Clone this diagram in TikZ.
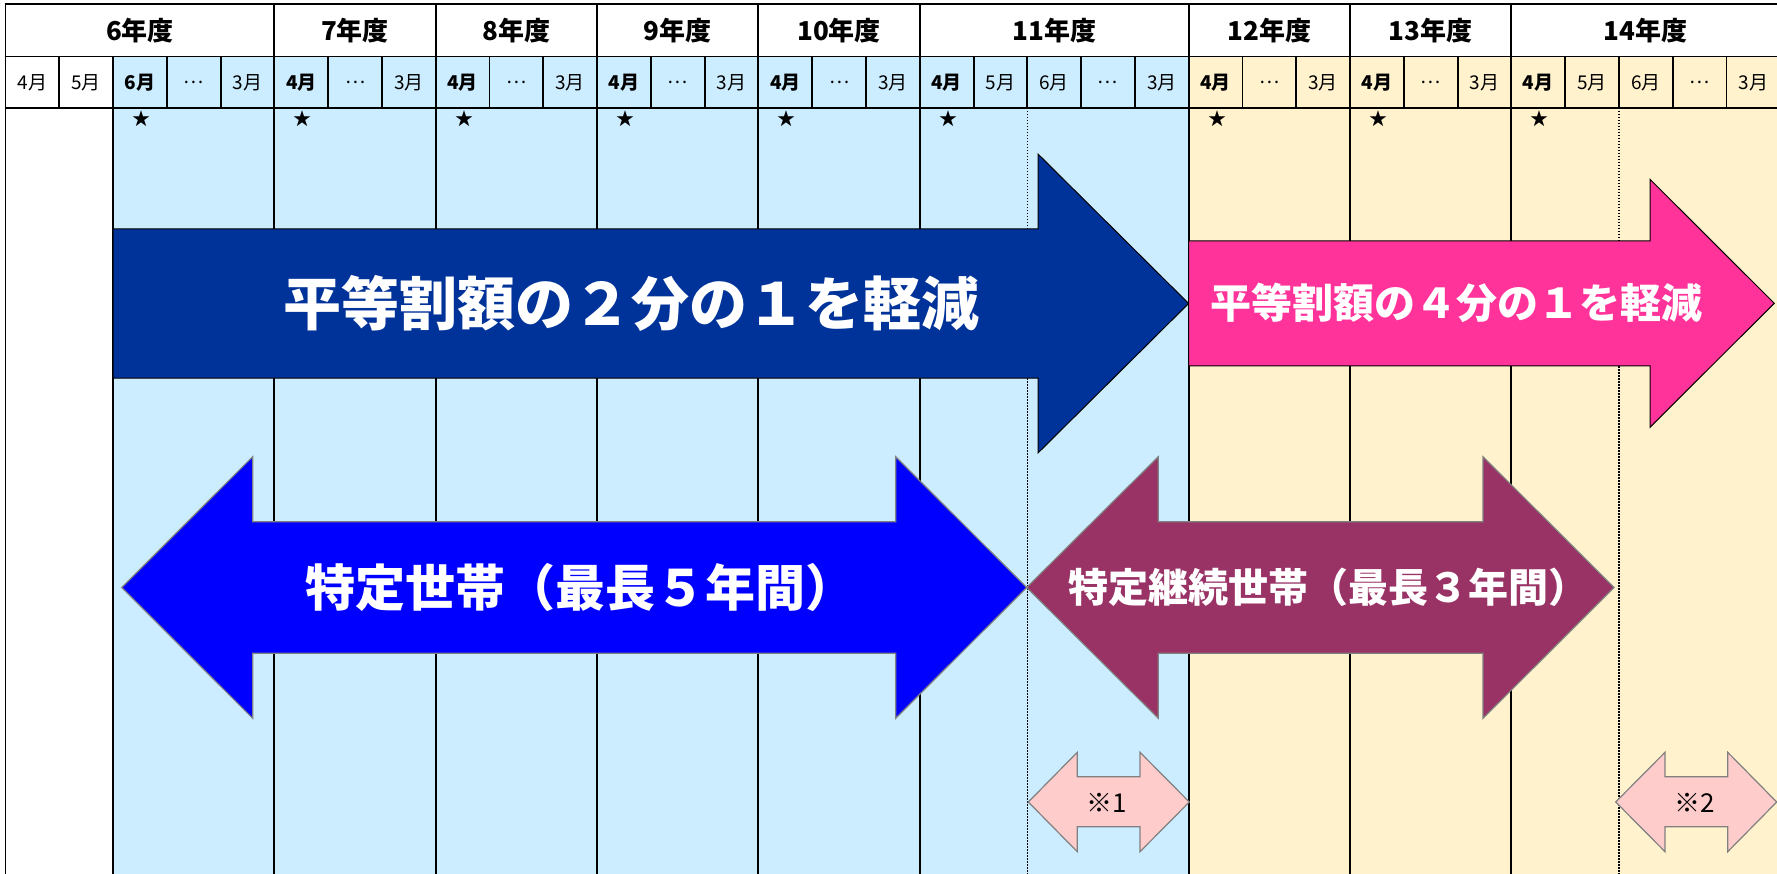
\documentclass[tikz,border=0pt]{standalone}
\usepackage{fontspec}
\setmainfont{Noto Sans CJK JP}
\definecolor{bgblue}{HTML}{CCECFF}
\definecolor{bgyellow}{HTML}{FFF2CC}
\definecolor{halfblue}{HTML}{003399}
\definecolor{quarterpink}{HTML}{FF3399}
\definecolor{fiveblue}{HTML}{0000FF}
\definecolor{threemaroon}{HTML}{993366}
\definecolor{notepink}{HTML}{FFCCCC}
\begin{document}
\begin{tikzpicture}[x=1pt,y=-1pt]
    \tikzset{grid/.style={line width=1.9pt},
        sixmonth/.style={line width=1.4pt,dash pattern=on 1.5pt off 1.5pt},
        yearlabel/.style={font=\fontsize{26}{26}\selectfont\bfseries},
        monthlabel/.style={font=\fontsize{19}{19}\selectfont},
        starmark/.style={font=\fontsize{18}{18}\selectfont},
        onearrow/.style={draw=black,line width=1pt},
        twoarrow/.style={draw=gray,line width=1.2pt},
        bigtext/.style={text=white,font=\fontsize{#1}{#1}\selectfont\bfseries}};
    \useasboundingbox (0,0) rectangle (1777,874);
    \clip (0,0) rectangle (1777,874);
    \fill[white] (0,0) rectangle (1777,874);
    \fill[bgblue] ({5.5+53.78*2},56.5) rectangle ({5.5+53.78*22},880);
    \fill[bgyellow] ({5.5+53.78*22},56.5) rectangle (1790,880);
    \foreach \i in {19,30}
        \draw[sixmonth] ({5.5+53.78*\i},108) -- ({5.5+53.78*\i},880);
    \foreach \i in {0,2,5,8,11,14,17,22,25,28}
        \draw[grid] ({5.5+53.78*\i},108) -- ({5.5+53.78*\i},880);
    \foreach \i in {0,...,33}
        \draw[grid] ({5.5+53.78*\i},56.5) -- ({5.5+53.78*\i},108);
    \foreach \i in {0,5,8,11,14,17,22,25,28,33}
        \draw[grid] ({5.5+53.78*\i},4) -- ({5.5+53.78*\i},56.5);
    \foreach \y in {4,56.5,108}
        \draw[grid] (4.6,\y) -- (1790,\y);
    \foreach \a/\b/\n in {0/5/6,5/8/7,8/11/8,11/14/9,14/17/10,17/22/11,22/25/12,25/28/13,28/33/14}
        \node[yearlabel] (year\n) at ({5.5+53.78*(\a+\b)/2},30.5) {{\n}年度};
    \foreach \i/\m in {0/4月,1/5月,2/\textbf{6月},3/…,4/3月,5/\textbf{4月},6/…,7/3月,8/\textbf{4月},9/…,10/3月,
        11/\textbf{4月},12/…,13/3月,14/\textbf{4月},15/…,16/3月,17/\textbf{4月},18/5月,19/6月,20/…,21/3月,
        22/\textbf{4月},23/…,24/3月,25/\textbf{4月},26/…,27/3月,28/\textbf{4月},29/5月,30/6月,31/…,32/3月}
        \node[monthlabel] (month\i) at ({5.5+53.78*(\i+0.5)},82.5) {\m};
    \foreach \i in {2,5,8,11,14,17,22,25,28}
        \node[starmark] (star\i) at ({5.5+53.78*\i+28.5},119) {★};
    % 2 bun no 1
    \filldraw[onearrow,fill=halfblue] (113.06,229) -- (1038,229) -- (1038,154) -- (1188.66,303.5)
        -- (1038,453) -- (1038,378) -- (113.06,378) -- cycle;
    \node[bigtext=58] (half) at (631,303.5) {平等割額の２分の１を軽減};
    % 4 bun no 1
    \filldraw[onearrow,fill=quarterpink] (1188.66,241) -- (1650,241) -- (1650,179.3) -- (1774.3,303.3)
        -- (1650,427.3) -- (1650,366) -- (1188.66,366) -- cycle;
    \node[bigtext=41] (quarter) at (1456,303.3) {平等割額の４分の１を軽減};
    % setai
    \filldraw[twoarrow,fill=fiveblue] (121.7,587.5) -- (252.7,456.7) -- (252.7,521.7) -- (895.7,521.7)
        -- (895.7,456.7) -- (1026.7,587.5) -- (895.7,718.3) -- (895.7,653.3) -- (252.7,653.3)
        -- (252.7,718.3) -- cycle;
    \node[bigtext=50] (fiveyear) at (580,587.5) {特定世帯（最長５年間）};
    \filldraw[twoarrow,fill=threemaroon] (1026.7,587.5) -- (1158.3,456.7) -- (1158.3,521.7) -- (1483,521.7)
        -- (1483,456.7) -- (1614,587.5) -- (1483,718.3) -- (1483,653.3) -- (1158.3,653.3)
        -- (1158.3,718.3) -- cycle;
    \node[bigtext=40] (threeyear) at (1328,587.5) {特定継続世帯（最長３年間）};
    % kome
    \filldraw[twoarrow,fill=notepink] (1028.3,802) -- (1077.3,752.3) -- (1077.3,776.7) -- (1140,776.7)
        -- (1140,752.3) -- (1189.3,802) -- (1140,851.7) -- (1140,826.7) -- (1077.3,826.7)
        -- (1077.3,851.7) -- cycle;
    \node[font=\fontsize{26}{26}\selectfont] (noteone) at (1107,803) {※1};
    \filldraw[twoarrow,fill=notepink] (1615.7,802) -- (1665,752.3) -- (1665,776.7) -- (1727.7,776.7)
        -- (1727.7,752.3) -- (1776.7,802) -- (1727.7,851.7) -- (1727.7,826.7) -- (1665,826.7)
        -- (1665,851.7) -- cycle;
    \node[font=\fontsize{26}{26}\selectfont] (notetwo) at (1695,803) {※2};
\end{tikzpicture}
\end{document}
